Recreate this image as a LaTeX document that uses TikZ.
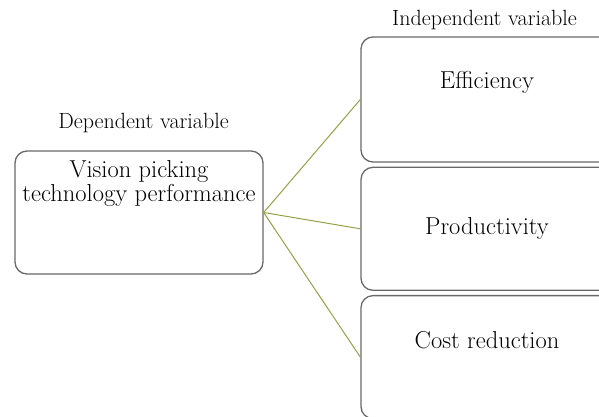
\documentclass[tikz,border=0pt]{standalone}
\usepackage{tikz}
\usetikzlibrary{positioning}

\definecolor{boxgray}{RGB}{105,105,105}
\definecolor{linkgreen}{RGB}{150,160,70}

\begin{document}
\begin{tikzpicture}[x=1pt, y=-1pt,
    varbox/.style={rectangle, draw=boxgray, line width=1.3pt, rounded corners=12pt, minimum width=248pt, minimum height=123pt},
    boxtext/.style={inner sep=0pt, align=center, font=\fontsize{24.5}{23.5}\selectfont},
    heading/.style={inner sep=0pt, font=\fontsize{22}{24}\selectfont},
    link/.style={draw=linkgreen, line width=1pt}
]
    \useasboundingbox (0,0) rectangle (599,416);

    % dependent side
    \node[varbox] (vision) at (139,212.5) {};
    \node[boxtext] (visiontext) at ([yshift=29pt]vision.center) {Vision picking\\technology performance};
    \node[heading, above=17pt of vision, xshift=4.5pt] (dep) {Dependent variable};

    % independent side
    \node[varbox, minimum width=252pt, minimum height=125pt] (eff) at (487,99.5) {};
    \node[varbox, minimum width=252pt, below=4pt of eff] (prod) {};
    \node[varbox, minimum width=252pt, below=4pt of prod] (cost) {};
    \node[boxtext] (efftext) at ([yshift=17pt]eff.center) {Efficiency};
    \node[boxtext] (prodtext) at (prod.center) {Productivity};
    \node[boxtext] (costtext) at ([yshift=17pt]cost.center) {Cost reduction};
    \node[heading, above=6pt of eff, xshift=-2.5pt] (indep) {Independent variable};

    \draw[link] (vision.east) -- (eff.west);
    \draw[link] (vision.east) -- (prod.west);
    \draw[link] (vision.east) -- (cost.west);
\end{tikzpicture}
\end{document}
